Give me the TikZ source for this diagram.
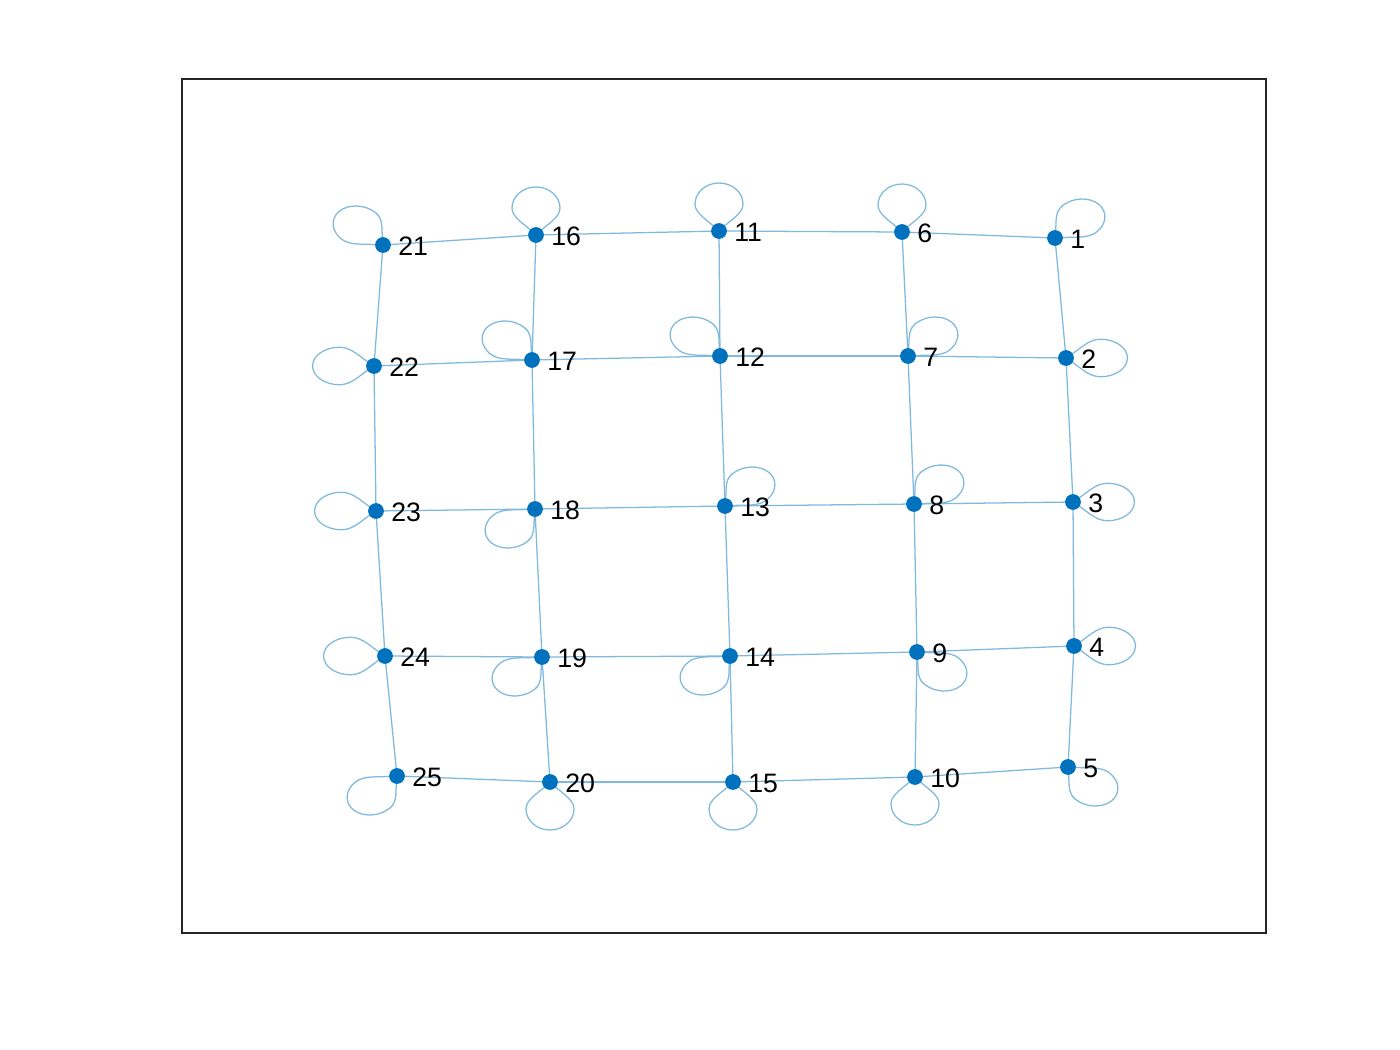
\documentclass[tikz,border=0pt]{standalone}
\usepackage{fontspec}
\setmainfont{Liberation Sans}
\usetikzlibrary{backgrounds}
\definecolor{dotblue}{HTML}{0072BD}
\definecolor{edgeblue}{HTML}{80B9DE}
\definecolor{framegray}{HTML}{262626}
% point of a self loop: (forward, left) in loop units, around node v\n, direction \cd/\sd
\newcommand\lpt[2]{([shift={({0.96*((#1)*\cd-(#2)*\sd)*1pt},{0.75*((#1)*\sd+(#2)*\cd)*1pt})}]v\n.center)}
\begin{document}
\begin{tikzpicture}[x=0.75pt,y=-0.75pt,
  vtx/.style={circle,fill=dotblue,inner sep=0pt,minimum size=11.8pt},
  lab/.style={inner sep=0pt,anchor=west,font=\fontsize{20}{22}\selectfont,text=black},
  edge/.style={draw=edgeblue,line width=0.95pt}]
\useasboundingbox (0,0) rectangle (1400,1050);
\draw[framegray,line width=0.9pt] (182,79) rectangle (1266,933);
\foreach \n/\x/\y in {1/1055/238,2/1066/358,3/1073/502,4/1074/646,5/1068/767,
  6/902/232,7/908/356,8/914/504,9/917/652,10/915/777,
  11/719/231,12/720/356,13/725/506,14/730/656,15/733/782,
  16/536/235,17/532/360,18/535/509,19/542/657,20/550/782,
  21/383/245,22/374/366,23/376/511,24/385/656,25/397/776}{
  \node[vtx] (v\n) at (\x,\y) {};
  \node[lab] (l\n) at (\x+15,\y+1) {\n};
}
\begin{scope}[on background layer]
  \foreach \c in {0,5,10,15,20}{
    \foreach \r in {1,2,3,4}{
      \pgfmathtruncatemacro\a{\c+\r}
      \pgfmathtruncatemacro\b{\c+\r+1}
      \draw[edge] (v\a.center) -- (v\b.center);
    }
  }
  \foreach \i in {1,...,20}{
    \pgfmathtruncatemacro\j{\i+5}
    \draw[edge] (v\i.center) -- (v\j.center);
  }
  % self loops, drawn in data units (x stretched by 1.28 on screen)
  \foreach \n/\d in {1/45,2/0,3/0,4/0,5/-45,6/90,7/45,8/45,9/-45,10/-90,
    11/90,12/135,13/45,14/225,15/270,16/90,17/135,18/225,19/225,20/270,
    21/135,22/180,23/180,24/180,25/225}{
    \pgfmathsetmacro\cd{cos(\d)}
    \pgfmathsetmacro\sd{sin(\d)}
    \draw[edge] (v\n.center)
      .. controls \lpt{11.03}{8.62} and \lpt{17}{18.75} .. \lpt{27}{18.75}
      .. controls \lpt{38.6}{18.75} and \lpt{48}{10.35} .. \lpt{48}{0}
      .. controls \lpt{48}{-10.35} and \lpt{38.6}{-18.75} .. \lpt{27}{-18.75}
      .. controls \lpt{17}{-18.75} and \lpt{11.03}{-8.62} .. (v\n.center);
  }
\end{scope}
\end{tikzpicture}
\end{document}
